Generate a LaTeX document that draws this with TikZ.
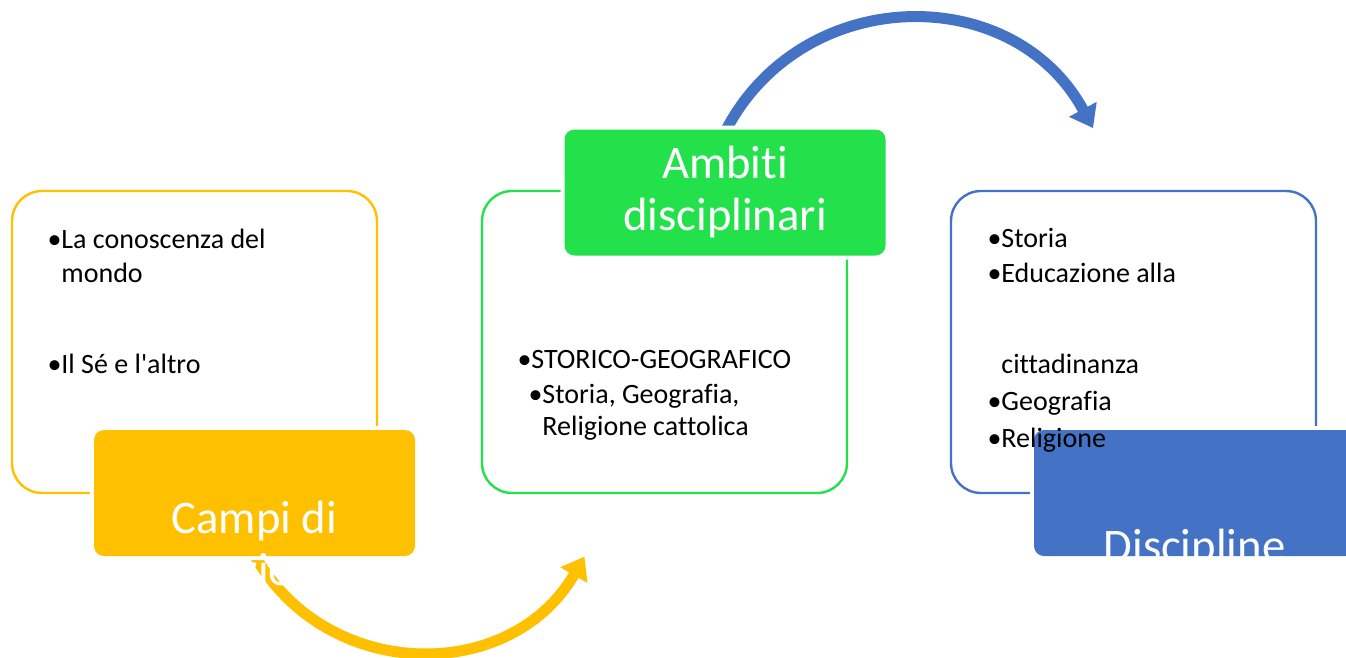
\documentclass[tikz,border=0pt]{standalone}
\usepackage{fontspec}
\setmainfont{Carlito}[Ligatures={TeX,NoCommon}]
\usetikzlibrary{arrows.meta}

\definecolor{campiyellow}{RGB}{255,192,0}
\definecolor{ambitigreen}{RGB}{35,225,75}
\definecolor{disciblue}{RGB}{68,114,196}

\tikzset{every picture/.style={line width=0.75pt}}
\tikzset{
  outlinebox/.style={draw, line width=1.8pt, rounded corners=22.5pt, minimum width=273.75pt, minimum height=226.5pt, inner sep=0pt},
  titlebox/.style={preaction={draw=white, line width=6pt}, rounded corners=7.5pt, minimum width=240.75pt, minimum height=94.5pt, inner sep=0pt},
  titletext/.style={text=white, anchor=base, inner sep=0pt, align=center, font=\fontsize{35}{39}\selectfont},
  itemtext/.style={anchor=base west, inner sep=0pt, align=left, font=\fontsize{21}{25.5}\selectfont},
  bigarrow/.style={line width=8.25pt, -{Triangle[width=22.5pt,length=16pt]}}
}

\begin{document}
\begin{tikzpicture}[x=0.75pt,y=0.75pt,yscale=-1,xscale=1]
\useasboundingbox (0,0) rectangle (1346,657);

%Shape: Rounded Rect [id:campiList] 
\node[outlinebox, draw=campiyellow] (campiList) at (194.5,342) {};
%Shape: Rounded Rect [id:ambitiList] 
\node[outlinebox, draw=ambitigreen] (ambitiList) at (664.5,342) {};
%Shape: Rounded Rect [id:discList] 
\node[outlinebox, draw=disciblue] (discList) at (1133.5,342) {};

%Curve Arrow [id:campiArrow] 
\coordinate (campiTail) at (252.2,550.8);
\coordinate (ambitiHead) at (584.5,556.6);
\draw[bigarrow, campiyellow] (campiTail) .. controls +(70,131.7) and +(-74.6,129.2) .. (ambitiHead);
%Curve Arrow [id:ambitiArrow] 
\coordinate (ambitiTail) at (723.1,135.8);
\coordinate (discHead) at (1093,128.1);
\draw[bigarrow, disciblue] (ambitiTail) .. controls +(74.2,-152.2) and +(-80.5,-148.9) .. (discHead);

%Shape: Rounded Rect [id:campi] 
\node[titlebox, fill=campiyellow] (campi) at (254.5,493) {};
%Shape: Rounded Rect [id:ambiti] 
\node[titlebox, fill=ambitigreen] (ambiti) at (725,192.5) {};
%Shape: Rounded Rect [id:disc] 
\node[titlebox, fill=disciblue] (disc) at (1194.5,493) {};

% Text Node (anchored at the last line)
\node[titletext] (campiTitle) at (254.5,585) {Campi di\\esperienza};
% Text Node
\node[titletext] (ambitiTitle) at (725,230) {Ambiti\\disciplinari};
% Text Node
\node[titletext] (discTitle) at (1194.5,561) {Discipline};

% Text Node
\node[itemtext] (mondoItem) at (47,282) {•La conoscenza del\\\phantom{•}mondo};
% Text Node
\node[itemtext] (seItem) at (47,373) {•Il Sé e l\textquotesingle altro};
% Text Node
\node[itemtext] (storGeoItem) at (517,368) {•STORICO-GEOGRAFICO};
% Text Node
\node[itemtext] (materieItem) at (528,435) {•Storia, Geografia,\\[-1.5pt]\phantom{•}Religione cattolica};
% Text Node
\node[itemtext] (storiaItem) at (987,247) {•Storia};
% Text Node
\node[itemtext] (educItem) at (987,373) {•Educazione alla\\[42.75pt]\phantom{•}cittadinanza};
% Text Node
\node[itemtext] (geoItem) at (987,410) {•Geografia};
% Text Node
\node[itemtext] (religItem) at (987,447) {•Religione};

\end{tikzpicture}
\end{document}
